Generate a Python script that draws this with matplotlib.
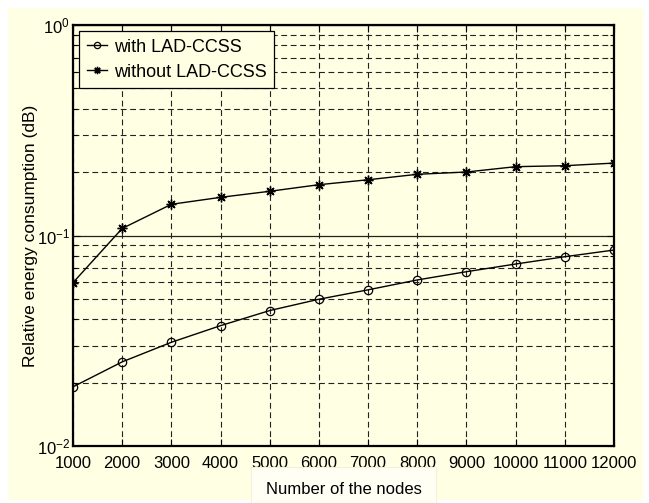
import matplotlib
matplotlib.use("Agg")
import matplotlib.pyplot as plt
from matplotlib.patches import Rectangle
from matplotlib.ticker import FixedLocator, LogLocator, NullFormatter

plt.rcParams['font.family'] = ['Liberation Sans', 'DejaVu Sans']
plt.rcParams['mathtext.fontset'] = 'custom'
plt.rcParams['mathtext.rm'] = 'Liberation Sans'
plt.rcParams['mathtext.it'] = 'Liberation Sans'
plt.rcParams['lines.scale_dashes'] = False

nodes = [1000, 2000, 3000, 4000, 5000, 6000, 7000, 8000, 9000, 10000, 11000, 12000]
with_lad = [0.0191, 0.0251, 0.0311, 0.0373, 0.0440, 0.0498, 0.0552, 0.0615, 0.0673, 0.0732, 0.0793, 0.0853]
without_lad = [0.0597, 0.108, 0.1407, 0.1518, 0.1622, 0.1743, 0.184, 0.1953, 0.2003, 0.2123, 0.2146, 0.2208]
xtick_labels = [str(v) for v in nodes]
ytick_values = [0.01, 0.1, 1.0]
ytick_labels = [r'$10^{-2}$', r'$10^{-1}$', r'$10^{0}$']

bg = '#FFFFE3'
fig = plt.figure(figsize=(6.49, 5.03), dpi=100, facecolor='white')
fig.patches.append(Rectangle((8/649, 3/503), (643-8)/649, (495-3)/503,
                             transform=fig.transFigure, facecolor=bg,
                             edgecolor='none', zorder=-10))

ax = fig.add_axes([73/649, (503-446)/503, (614-73)/649, (446-25)/503])
ax.set_facecolor(bg)

ax.plot(nodes, with_lad, color='k', lw=1.0, marker='o', ms=6,
        mfc='none', mec='k', mew=0.9, label='with LAD-CCSS', zorder=5)
ax.plot(nodes, without_lad, color='k', lw=1.0, marker=(8, 2, 0), ms=7,
        mec='k', mew=1.0, label='without LAD-CCSS', zorder=5)

ax.set_yscale('log')
ax.set_ylim(0.01, 1.0)
ax.set_xlim(1000, 12000)
ax.xaxis.set_major_locator(FixedLocator(nodes))
ax.set_xticklabels(xtick_labels, fontsize=12)
ax.set_yticks(ytick_values)
ax.set_yticklabels(ytick_labels, fontsize=12)
ax.yaxis.set_minor_locator(LogLocator(base=10, subs=range(2, 10)))
ax.yaxis.set_minor_formatter(NullFormatter())

ax.tick_params(which='both', direction='in', top=True, right=True, width=0.8, colors='k')
ax.tick_params(which='major', length=5)
ax.tick_params(which='minor', length=3)
ax.tick_params(axis='x', pad=7)
ax.tick_params(axis='y', pad=2)

dash = (0, (4.2, 2.6))
ax.xaxis.grid(True, which='major', color='#222222', lw=0.8, linestyle=dash)
ax.yaxis.grid(True, which='minor', color='#222222', lw=0.8, linestyle=dash)
ax.yaxis.grid(True, which='major', color='#222222', lw=0.9, linestyle='-')
ax.set_axisbelow(True)

for s in ax.spines.values():
    s.set_linewidth(1.6)
    s.set_color('k')

ax.set_ylabel('Relative energy consumption (dB)', fontsize=12.5)
ax.yaxis.set_label_coords((38 - 73) / 541, 0.5)
ax.set_xlabel('Number of the nodes', fontsize=12,
              bbox=dict(boxstyle='square,pad=0.9', facecolor='#FFFFF4',
                        edgecolor='#F2F2DA', lw=0.8))
ax.xaxis.set_label_coords(0.5, (446 - 489) / 421)
ax.xaxis.label.set_va('center')

leg = ax.legend(loc='upper left', fontsize=13, frameon=True, fancybox=False,
                framealpha=1.0, facecolor=bg, edgecolor='k',
                handlelength=1.15, handletextpad=0.35, borderpad=0.4,
                labelspacing=0.45, borderaxespad=0.35, markerscale=0.75)
leg.get_frame().set_linewidth(0.9)

fig.savefig('out.png', dpi=100, facecolor='white')
